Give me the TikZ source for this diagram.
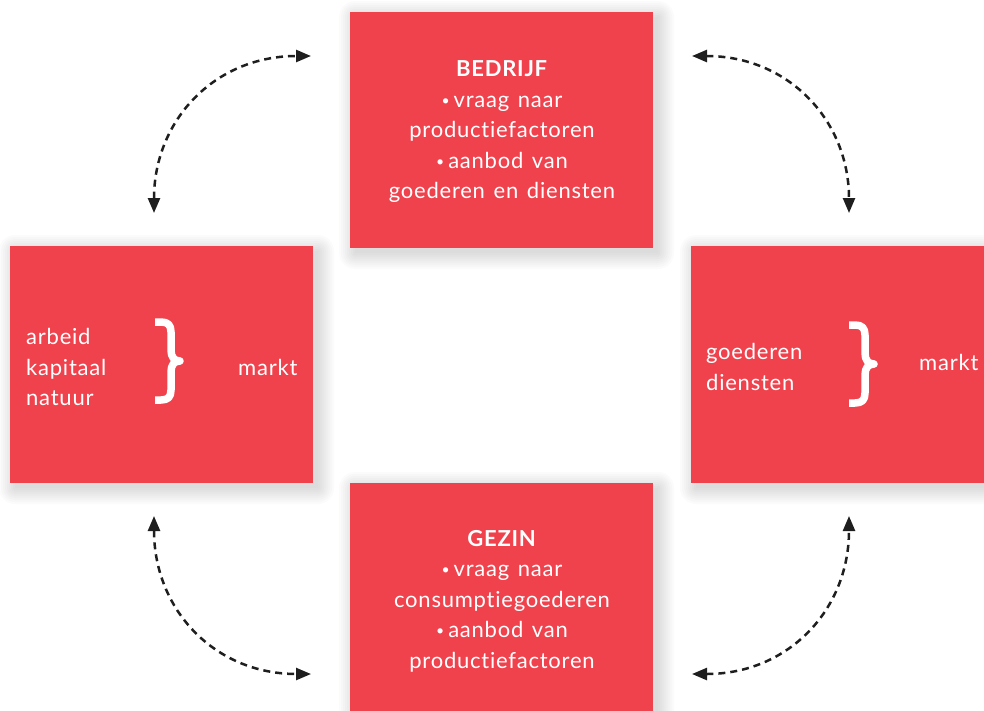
\documentclass[tikz,border=0pt]{standalone}
\usepackage{fontspec}
\setmainfont[LetterSpace=3.5,WordSpace=1.35,Ligatures={NoCommon,NoRare}]{Lato}
\usetikzlibrary{arrows.meta}
\definecolor{boxred}{RGB}{240,66,77}
\definecolor{arrowblack}{RGB}{30,30,30}
\newcommand{\softshadow}[4]{%
  \foreach \r in {0,2,...,16}{%
    \fill[black, opacity=0.017, rounded corners=\r pt] ({#1+5-\r},{#2+5-\r}) rectangle ({#3+5+\r},{#4+5+\r});
  }%
}
\newcommand{\smallbullet}{\raisebox{1.8pt}{\fontsize{14}{14}\selectfont•}\hspace{4pt}}
\newcommand{\whitebrace}[2]{%
  \begin{scope}[shift={(#1,#2)}]
  \draw[bracestyle] (155,322) -- (161,322) .. controls (168,322) and (171,325) .. (171,332) -- (171,350)
     .. controls (171,357) and (174,361) .. (180,361)
     .. controls (174,361) and (171,365) .. (171,372) -- (171,390)
     .. controls (171,397) and (168,400) .. (161,400) -- (155,400);
  \end{scope}%
}
\begin{document}
\begin{tikzpicture}[x=1pt,y=-1pt,
  redbox/.style={fill=boxred, draw=none, inner sep=0pt, anchor=north west},
  boxtext/.style={text=white, font=\fontsize{22}{30.5}\selectfont, inner sep=0pt},
  bracestyle/.style={draw=white, line width=7.5pt, line join=round},
  flow/.style={draw=arrowblack, line width=2.5pt, dash pattern=on 7pt off 5pt, {Triangle[length=15pt,width=12pt]}-{Triangle[length=15pt,width=12pt]}}
]
\useasboundingbox (0,0) rectangle (984,710);
\begin{scope}
\clip (0,0) rectangle (984,710);
% shadows
\softshadow{350}{12}{653}{248}
\softshadow{10}{246}{313}{483}
\softshadow{691}{246}{984}{483}
\softshadow{350}{483}{653}{720}
% boxes
\node[redbox, minimum width=303pt, minimum height=236pt] (bedrijf) at (350,12) {};
\node[redbox, minimum width=303pt, minimum height=237pt] (factormarkt) at (10,246) {};
\node[redbox, minimum width=300pt, minimum height=237pt] (goederenmarkt) at (691,246) {};
\node[redbox, minimum width=303pt, minimum height=240pt] (gezin) at (350,483) {};
\end{scope}
% texts
\node[boxtext, align=center] (tbedrijf) at (502,132) {\textbf{BEDRIJF}\\\smallbullet vraag naar\\productiefactoren\\\smallbullet aanbod van\\goederen en diensten};
\node[boxtext, align=center] (tgezin) at (502,601) {\textbf{GEZIN}\\\smallbullet vraag naar\\consumptiegoederen\\\smallbullet aanbod van\\productiefactoren};
\node[boxtext, align=left, anchor=west] (tfactor) at (26,367) {arbeid\\kapitaal\\natuur};
\node[boxtext, anchor=west] (tmarkt1) at (238,367) {markt};
\node[boxtext, align=left, anchor=west] (tgoed) at (706,367) {goederen\\diensten};
\node[boxtext, anchor=west] (tmarkt2) at (919,362) {markt};
% braces
\whitebrace{0}{0}
\whitebrace{694}{3}
% connectors
\coordinate (a1) at (154,213);
\coordinate (a2) at (311,56);
\coordinate (b1) at (692,56);
\coordinate (b2) at (849,213);
\coordinate (c1) at (154,516);
\coordinate (c2) at (311,674);
\coordinate (d1) at (692,674);
\coordinate (d2) at (849,516);
\draw[flow] (a1) .. controls (154,120) and (215,56) .. (a2);
\draw[flow] (b1) .. controls (788,56) and (849,120) .. (b2);
\draw[flow] (c1) .. controls (154,610) and (215,674) .. (c2);
\draw[flow] (d1) .. controls (788,674) and (849,610) .. (d2);
\end{tikzpicture}
\end{document}
